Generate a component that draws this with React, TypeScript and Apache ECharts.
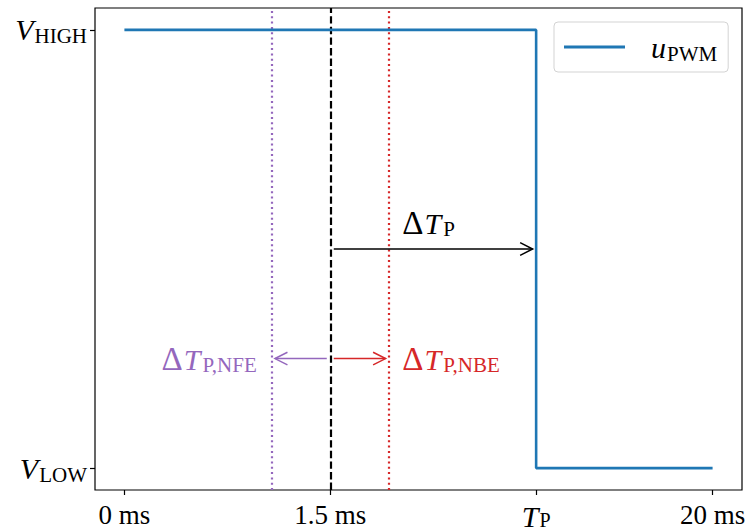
import React, { useEffect, useRef } from "react";
import * as echarts from "echarts";

// PWM waveform: high until T_P, then low until 20 ms
const pwmX = [0, 14, 14, 20];
const pwmY = [1, 1, 0, 0];

// Axis ticks and their labels
const xTickValues = [0, 7, 14, 20];
const xTickLabels = ["0 ms", "1.5 ms", "{i|T}{s|P}", "20 ms"];
const yTickValues = [0, 1];
const yTickLabels = ["{i|V}{s|LOW}", "{i|V}{s|HIGH}"];

// Vertical markers: NFE bound, nominal edge, NBE bound
const markerX = [5, 7, 9];
const markerColors = ["#9467bd", "#000000", "#d62728"];
const markerDash = [
  [2, 3.3],
  [7.4, 3.2],
  [2, 3.3],
];

// Arrows between time instants
const arrowStart = [7, 7, 7];
const arrowEnd = [14, 5, 9];
const arrowLevel = [0.5, 0.25, 0.25];
const arrowColors = ["#000000", "#9467bd", "#d62728"];

// Annotation texts
const noteX = [9.45, 4.5, 9.45];
const noteY = [0.56, 0.25, 0.25];
const noteText = [
  "{d|Δ}{i|T}{s|P}",
  "{d|Δ}{i|T}{s|P,NFE}",
  "{d|Δ}{i|T}{s|P,NBE}",
];
const noteAlign = ["left", "right", "left"];
const noteColors = ["#000000", "#9467bd", "#d62728"];

const FONT = "Liberation Serif";
const TEXT = 27;
const MATH = 30;
const SUB = 21;

// italic symbol with an upright, lowered subscript
const mathRich = (subSize: number, subDrop: number) => ({
  i: {
    fontFamily: FONT,
    fontSize: MATH,
    fontStyle: "italic",
    color: "#000",
    verticalAlign: "top",
    padding: [0, 1, 0, 0],
  },
  s: {
    fontFamily: FONT,
    fontSize: subSize,
    lineHeight: 17,
    color: "#000",
    verticalAlign: "top",
    padding: [subDrop, 0, 0, 0],
  },
});

const axisRich = mathRich(SUB, 11);
const bottomAxisRich = mathRich(20, 9);

const noteRich = {
  d: { fontFamily: FONT, fontSize: 33, verticalAlign: "top", padding: [0, 1, 0, 0] },
  i: { fontFamily: FONT, fontSize: MATH, fontStyle: "italic", verticalAlign: "top", padding: [2, 2, 0, 0] },
  s: { fontFamily: FONT, fontSize: SUB, verticalAlign: "top", padding: [12, 0, 0, 0] },
};

export default function App() {
  const ref = useRef<HTMLDivElement>(null);

  useEffect(() => {
    if (!ref.current) return;
    const chart = echarts.init(ref.current, undefined, { renderer: "svg" });

    const labelFor = (values: number[], labels: string[]) => (v: number) => {
      const idx = values.findIndex((t) => Math.abs(t - v) < 1e-9);
      return idx >= 0 ? labels[idx] : "";
    };

    chart.setOption({
      animation: false,
      backgroundColor: "#ffffff",
      grid: {
        left: 95,
        top: 8,
        width: 647,
        height: 482,
        containLabel: false,
        outerBoundsMode: "none",
        show: true,
        borderColor: "#000",
        borderWidth: 1.2,
        backgroundColor: "transparent",
      },
      legend: {
        show: true,
        left: 554,
        top: 22,
        orient: "vertical",
        padding: [10, 11, 8, 10],
        itemWidth: 61,
        itemHeight: 3,
        icon: "rect",
        selectedMode: false,
        backgroundColor: "rgba(255,255,255,0.8)",
        borderColor: "#d3d3d3",
        borderWidth: 1,
        borderRadius: 4,
        formatter: () => "{i|u}{s|PWM}",
        textStyle: {
          fontFamily: FONT,
          fontSize: MATH,
          color: "#000",
          padding: [0, 0, 0, 21],
          rich: axisRich,
        },
        data: ["u_PWM"],
      },
      xAxis: {
        type: "value",
        min: -1,
        max: 21,
        splitLine: { show: false },
        axisLine: { show: false, onZero: false },
        axisTick: {
          show: true,
          customValues: xTickValues,
          length: 5,
          lineStyle: { color: "#000", width: 1.2 },
        },
        axisLabel: {
          customValues: xTickValues,
          formatter: labelFor(xTickValues, xTickLabels),
          fontFamily: FONT,
          fontSize: TEXT,
          color: "#000",
          margin: 11,
          rich: bottomAxisRich,
        },
      },
      yAxis: {
        type: "value",
        min: -0.05,
        max: 1.05,
        splitLine: { show: false },
        axisLine: { show: false, onZero: false },
        axisTick: {
          show: true,
          customValues: yTickValues,
          length: 5,
          lineStyle: { color: "#000", width: 1.2 },
        },
        axisLabel: {
          customValues: yTickValues,
          formatter: labelFor(yTickValues, yTickLabels),
          fontFamily: FONT,
          fontSize: TEXT,
          color: "#000",
          margin: 8,
          rich: axisRich,
        },
      },
      series: [
        {
          name: "u_PWM",
          type: "line",
          data: pwmX.map((x, i) => [x, pwmY[i]]),
          symbol: "none",
          showSymbol: false,
          z: 5,
          lineStyle: { color: "#1f77b4", width: 2.6 },
          itemStyle: { color: "#1f77b4" },
          markLine: {
            silent: true,
            symbol: "none",
            label: { show: false },
            data: markerX.map((x, i) => ({
              xAxis: x,
              lineStyle: {
                color: markerColors[i],
                type: markerDash[i],
                width: 2.2,
              },
            })),
          },
        },
        {
          name: "arrows",
          type: "custom",
          silent: true,
          z: 6,
          data: arrowStart.map((x, i) => [x, arrowEnd[i], arrowLevel[i]]),
          encode: { x: [0, 1], y: 2 },
          renderItem: (params: any, api: any) => {
            const i = params.dataIndex;
            const y = api.value(2);
            const a = api.coord([api.value(0), y]);
            const b = api.coord([api.value(1), y]);
            const dir = Math.sign(b[0] - a[0]);
            const shrink = 3.5;
            const x0 = a[0] + dir * shrink;
            const x1 = b[0] - dir * shrink;
            const head = 12.5;
            const half = 6.3;
            const color = arrowColors[i];
            return {
              type: "group",
              children: [
                {
                  type: "line",
                  shape: { x1: x0, y1: a[1], x2: x1, y2: a[1] },
                  style: { stroke: color, lineWidth: 1.5 },
                },
                {
                  type: "polyline",
                  shape: {
                    points: [
                      [x1 - dir * head, a[1] - half],
                      [x1, a[1]],
                      [x1 - dir * head, a[1] + half],
                    ],
                  },
                  style: { stroke: color, lineWidth: 1.5, fill: "none" },
                },
              ],
            };
          },
        },
        {
          name: "notes",
          type: "custom",
          silent: true,
          z: 7,
          data: noteX.map((x, i) => [x, noteY[i]]),
          renderItem: (params: any, api: any) => {
            const i = params.dataIndex;
            const p = api.coord([api.value(0), api.value(1)]);
            return {
              type: "text",
              x: p[0],
              y: p[1],
              style: {
                text: noteText[i],
                rich: noteRich,
                fill: noteColors[i],
                fontFamily: FONT,
                fontSize: MATH,
                align: noteAlign[i],
                verticalAlign: "middle",
              },
            };
          },
        },
      ],
    });

    return () => chart.dispose();
  }, []);

  return (
    <div
      ref={ref}
      style={{ position: "fixed", left: 0, top: 0, width: 749, height: 531 }}
    />
  );
}
